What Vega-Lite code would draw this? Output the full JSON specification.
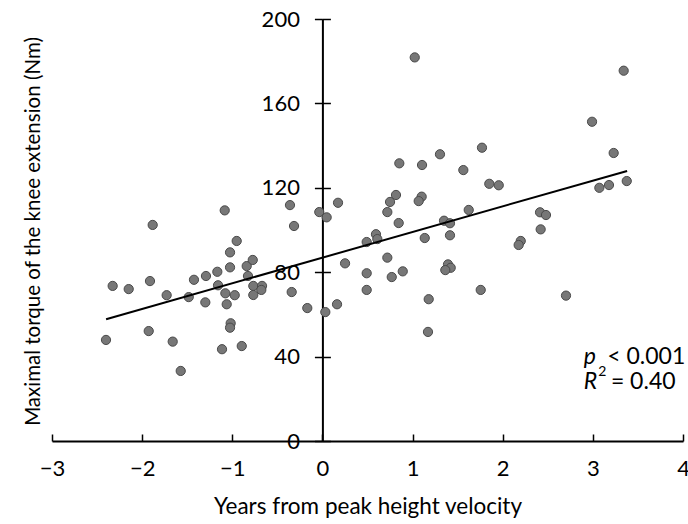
{
  "$schema": "https://vega.github.io/schema/vega-lite/v6.json",
  "width": 631,
  "height": 422,
  "autosize": "none",
  "padding": {"left": 52, "top": 19, "right": 5, "bottom": 83},
  "background": "white",
  "config": {
    "view": {"stroke": null},
    "font": "Lato",
    "axis": {"grid": false, "domainColor": "black", "tickColor": "black", "labelColor": "black", "titleColor": "black", "labelFont": "Lato", "titleFont": "Lato", "labelFontSize": 22, "titleFontSize": 21, "titleFontWeight": "normal", "domainWidth": 2, "tickWidth": 1.5}
  },
  "datasets": {
    "pts": [
      {"x": -2.327, "y": 73.5}, {"x": -2.149, "y": 72.0}, {"x": -1.883, "y": 102.4}, {"x": -1.913, "y": 75.8},
      {"x": -2.401, "y": 47.9}, {"x": -1.927, "y": 52.1}, {"x": -1.728, "y": 69.1}, {"x": -1.661, "y": 47.1},
      {"x": -1.572, "y": 33.2}, {"x": -1.483, "y": 68.2}, {"x": -1.425, "y": 76.4}, {"x": -1.292, "y": 78.2},
      {"x": -1.299, "y": 65.7}, {"x": -1.166, "y": 80.2}, {"x": -1.158, "y": 73.8}, {"x": -1.084, "y": 109.3},
      {"x": -1.025, "y": 89.4}, {"x": -0.951, "y": 94.8}, {"x": -1.025, "y": 82.3}, {"x": -1.077, "y": 70.0},
      {"x": -1.062, "y": 64.8}, {"x": -0.973, "y": 69.1}, {"x": -1.018, "y": 55.8}, {"x": -1.025, "y": 53.7},
      {"x": -1.114, "y": 43.5}, {"x": -0.895, "y": 45.0}, {"x": -0.840, "y": 82.9}, {"x": -0.773, "y": 85.8},
      {"x": -0.826, "y": 78.2}, {"x": -0.767, "y": 73.5}, {"x": -0.670, "y": 73.5}, {"x": -0.678, "y": 71.6},
      {"x": -0.767, "y": 69.2}, {"x": -0.360, "y": 111.8}, {"x": -0.315, "y": 101.9}, {"x": -0.341, "y": 70.6},
      {"x": -0.168, "y": 63.0}, {"x": -0.035, "y": 108.5}, {"x": 0.047, "y": 106.0}, {"x": 0.032, "y": 61.1},
      {"x": 0.853, "y": 131.6}, {"x": 1.105, "y": 130.8}, {"x": 1.304, "y": 135.9}, {"x": 1.563, "y": 128.4},
      {"x": 1.770, "y": 139.0}, {"x": 1.851, "y": 121.9}, {"x": 1.956, "y": 121.2}, {"x": 0.816, "y": 116.6},
      {"x": 0.750, "y": 113.3}, {"x": 1.101, "y": 115.8}, {"x": 1.068, "y": 113.7}, {"x": 0.720, "y": 108.5},
      {"x": 0.173, "y": 112.9}, {"x": 0.846, "y": 103.3}, {"x": 1.623, "y": 109.5}, {"x": 1.349, "y": 104.4},
      {"x": 1.415, "y": 103.2}, {"x": 1.415, "y": 97.5}, {"x": 1.135, "y": 96.2}, {"x": 0.594, "y": 98.0},
      {"x": 0.609, "y": 95.7}, {"x": 0.491, "y": 94.3}, {"x": 0.720, "y": 86.9}, {"x": 0.251, "y": 84.2},
      {"x": 0.491, "y": 79.5}, {"x": 0.769, "y": 77.7}, {"x": 0.891, "y": 80.4}, {"x": 1.393, "y": 83.7},
      {"x": 1.423, "y": 82.1}, {"x": 1.363, "y": 81.0}, {"x": 0.491, "y": 71.6}, {"x": 1.179, "y": 67.2},
      {"x": 1.756, "y": 71.6}, {"x": 0.162, "y": 64.8}, {"x": 1.171, "y": 51.7}, {"x": 3.342, "y": 175.5},
      {"x": 2.991, "y": 151.3}, {"x": 3.231, "y": 136.5}, {"x": 3.376, "y": 123.2}, {"x": 3.072, "y": 120.0},
      {"x": 3.179, "y": 121.3}, {"x": 2.414, "y": 108.4}, {"x": 2.480, "y": 107.1}, {"x": 2.421, "y": 100.3},
      {"x": 2.200, "y": 94.8}, {"x": 2.177, "y": 92.9}, {"x": 2.702, "y": 68.9}, {"x": 1.024, "y": 181.8}
    ],
    "fit": [{"x": -2.40, "y": 57.7}, {"x": 3.38, "y": 128.0}],
    "italic": [{"x": 2.9, "y": 40, "t": "p"}, {"x": 2.9, "y": 28, "t": "R"}],
    "plain": [{"x": 3.16, "y": 40, "t": "< 0.001"}, {"x": 3.2, "y": 28, "t": "= 0.40"}],
    "sup": [{"x": 3.06, "y": 32.7, "t": "2"}]
  },
  "layer": [
    {
      "layer": [
        {
          "data": {"name": "pts"},
          "mark": {"type": "point", "filled": true, "fill": "#777777", "stroke": "#4a4a4a", "strokeWidth": 1, "size": 85, "opacity": 1},
          "encoding": {
            "x": {"field": "x", "type": "quantitative", "scale": {"domain": [-3, 4], "nice": false, "zero": false},
              "axis": {"title": "Years from peak height velocity", "titleFontSize": 22.5, "values": [-3, -2, -1, 0, 1, 2, 3, 4], "tickSize": -7, "labelPadding": 24, "titlePadding": 16,
                "labelExpr": "replace(format(datum.value, 'd'), '-', '−')", "labelFlush": false}},
            "y": {"field": "y", "type": "quantitative", "scale": {"domain": [0, 200], "nice": false},
              "axis": {"orient": "left", "offset": -270.4, "values": [0, 40, 80, 120, 160, 200], "tickSize": 8, "labelPadding": 15,
                "title": "Maximal torque of the knee extension (Nm)", "titleFontSize": 20.5, "titleX": -279, "titleY": 212}}
          }
        },
        {
          "data": {"name": "italic"},
          "mark": {"type": "text", "align": "left", "baseline": "middle", "fontStyle": "italic", "fontSize": 23, "font": "Lato", "color": "black"},
          "encoding": {"x": {"field": "x", "type": "quantitative"}, "y": {"field": "y", "type": "quantitative"}, "text": {"field": "t"}}
        },
        {
          "data": {"name": "plain"},
          "mark": {"type": "text", "align": "left", "baseline": "middle", "fontSize": 23, "font": "Lato", "color": "black"},
          "encoding": {"x": {"field": "x", "type": "quantitative"}, "y": {"field": "y", "type": "quantitative"}, "text": {"field": "t"}}
        },
        {
          "data": {"name": "sup"},
          "mark": {"type": "text", "align": "left", "baseline": "middle", "fontSize": 14, "font": "Lato", "color": "black"},
          "encoding": {"x": {"field": "x", "type": "quantitative"}, "y": {"field": "y", "type": "quantitative"}, "text": {"field": "t"}}
        }
      ]
    },
    {
      "data": {"name": "fit"},
      "mark": {"type": "line", "color": "black", "strokeWidth": 2},
      "encoding": {
        "x": {"field": "x", "type": "quantitative"},
        "y": {"field": "y", "type": "quantitative", "axis": {"orient": "right", "offset": -360.6, "labels": false, "domain": false, "tickSize": 8, "title": null, "values": [0, 40, 80, 120, 160, 200]}}
      }
    }
  ],
  "resolve": {"axis": {"y": "independent"}}
}
